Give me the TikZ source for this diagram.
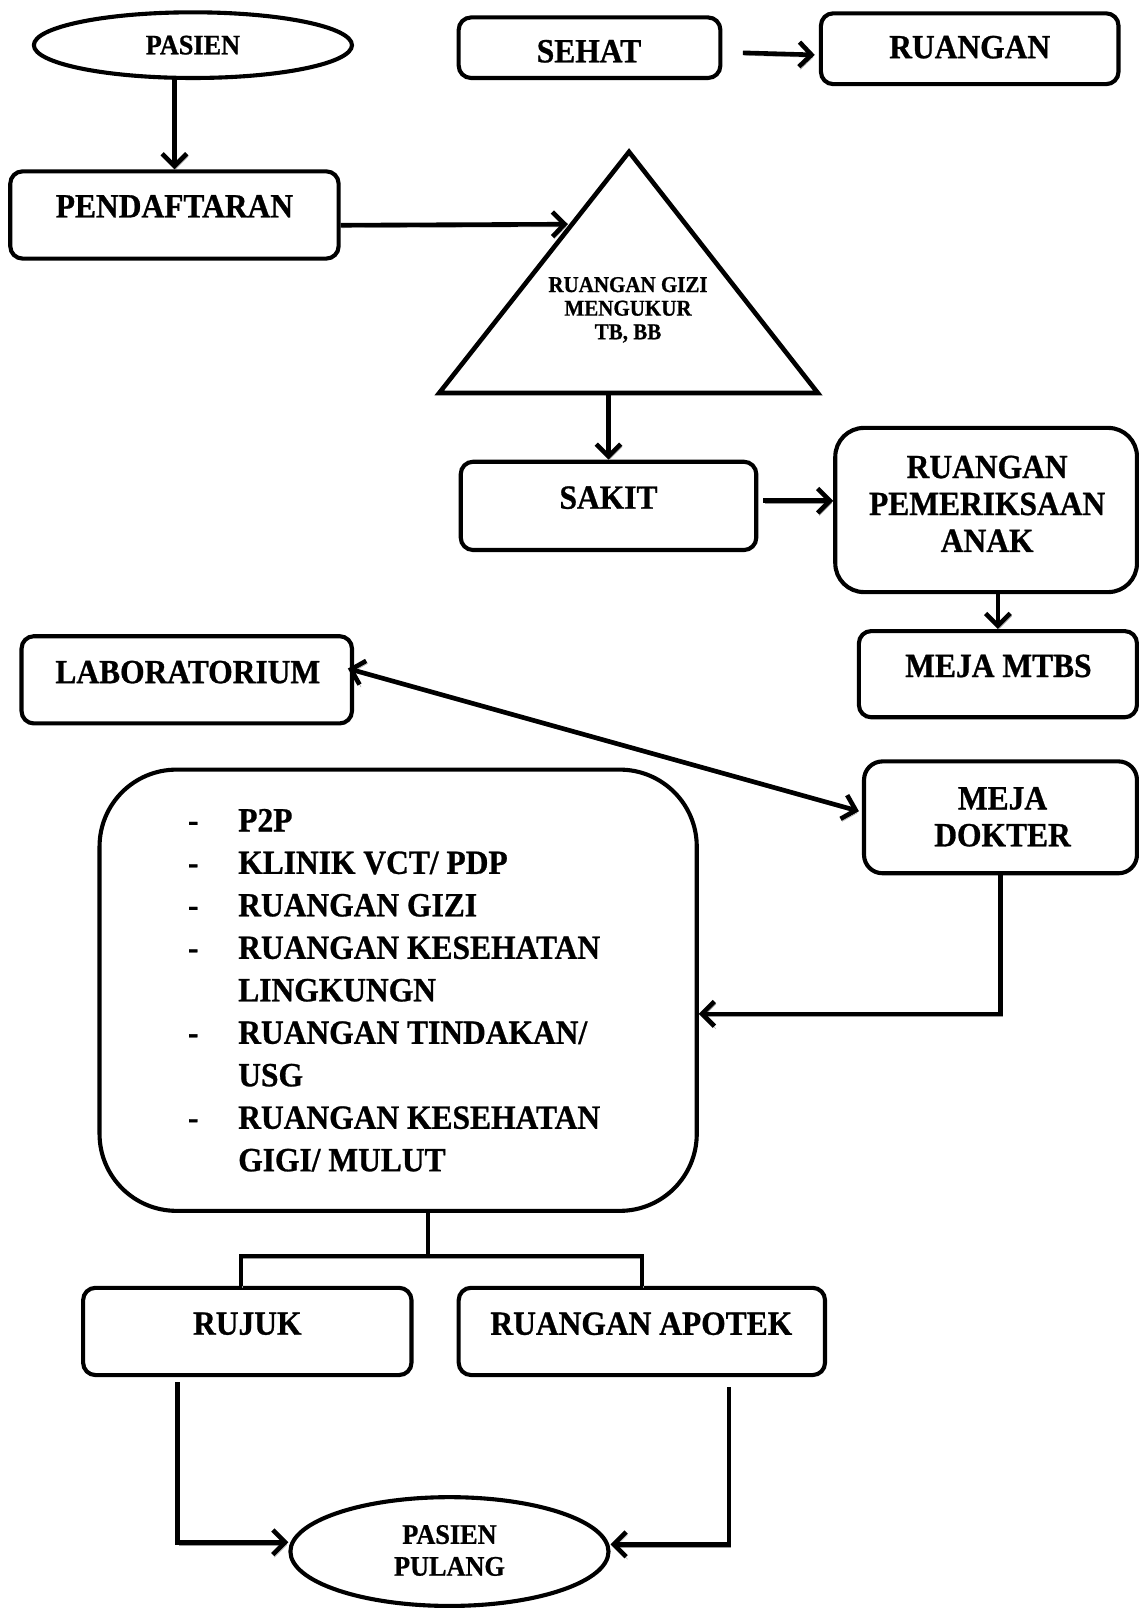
\documentclass[tikz,border=0pt]{standalone}
\usepackage{fontspec}
\setmainfont{Liberation Serif}[BoldFeatures={FakeStretch=0.93,FakeBold=0.8}]
\usetikzlibrary{arrows.meta,calc,shapes.geometric}

\tikzset{
  box/.style={draw, line width=4pt, rounded corners=12pt, inner sep=0pt},
  oval/.style={draw, ellipse, line width=4pt, inner sep=0pt},
  lblL/.style={font=\fontsize{33}{36}\selectfont\bfseries, align=center, inner sep=0pt},
  lblM/.style={font=\fontsize{27.5}{31}\selectfont\bfseries, align=center, inner sep=0pt},
  lblS/.style={font=\fontsize{22}{23}\selectfont\bfseries, align=center, inner sep=0pt},
  wire/.style={line width=4.5pt, preaction={draw=black!40, transform canvas={shift={(1.5,2.5)}}}},
  flow/.style={wire, -{Straight Barb[length=12pt,width=24pt]}},
  twoway/.style={wire, {Straight Barb[length=12pt,width=24pt]}-{Straight Barb[length=12pt,width=24pt]}},
}

\begin{document}
\begin{tikzpicture}[x=1pt,y=-1pt]
\useasboundingbox (0,0) rectangle (1109,1568);

% --- boxes and ovals ---
\node[oval, minimum width=310pt, minimum height=64pt] (pasien) at (188,44) {};
\node[lblM] (pasien-t) at (188,44) {PASIEN};

\node[box, minimum width=255pt, minimum height=59pt] (sehat) at (574.5,46.5) {};
\node[lblL] (sehat-t) at (574,50) {SEHAT};

\node[box, minimum width=290pt, minimum height=69pt] (ruangan) at (945,47.5) {};
\node[lblL] (ruangan-t) at (945,46) {RUANGAN};

\node[box, minimum width=320pt, minimum height=85pt] (pendaftaran) at (170,209.5) {};
\node[lblL] (pendaftaran-t) at (170,201) {PENDAFTARAN};

% measuring room (triangle)
\coordinate (gizi-apex) at (613,148);
\coordinate (gizi-left) at (428,383);
\coordinate (gizi-right) at (797,383);
\draw[line width=4.5pt, line join=miter] (gizi-apex) -- (gizi-left) -- (gizi-right) -- cycle;
\node[lblS] (gizi) at (612,302) {RUANGAN GIZI\\MENGUKUR\\TB, BB};

\node[box, minimum width=288pt, minimum height=86pt] (sakit) at (593,493) {};
\node[lblL] (sakit-t) at (593,485) {SAKIT};

\node[box, rounded corners=28pt, minimum width=294pt, minimum height=160pt] (pemeriksaan) at (961,497) {};
\node[lblL] (pemeriksaan-t) at (962,491) {RUANGAN\\PEMERIKSAAN\\ANAK};

\node[box, minimum width=271pt, minimum height=84pt] (mtbs) at (972.5,657) {};
\node[lblL] (mtbs-t) at (973,649) {MEJA MTBS};

\node[box, minimum width=322pt, minimum height=85pt] (lab) at (182,662.5) {};
\node[lblL] (lab-t) at (183,655) {LABORATORIUM};

\node[box, rounded corners=18pt, minimum width=266pt, minimum height=109pt] (dokter) at (975,796.5) {};
\node[lblL] (dokter-t) at (977,796) {MEJA\\DOKTER};

\node[box, rounded corners=75pt, minimum width=582pt, minimum height=430pt] (services) at (388,965) {};
\node[anchor=north west, inner sep=0pt, font=\fontsize{33}{41.4}\selectfont\bfseries] (services-list) at (183,781)
  {\begin{tabular}{@{}p{49pt}@{}l@{}}
   - & P2P\\
   - & KLINIK VCT/ PDP\\
   - & RUANGAN GIZI\\
   - & RUANGAN KESEHATAN\\
     & LINGKUNGN\\
   - & RUANGAN TINDAKAN/\\
     & USG\\
   - & RUANGAN KESEHATAN\\
     & GIGI/ MULUT
   \end{tabular}};

\node[box, minimum width=320pt, minimum height=85pt] (rujuk) at (241,1297.5) {};
\node[lblL] (rujuk-t) at (241,1290) {RUJUK};

\node[box, minimum width=357pt, minimum height=85pt] (apotek) at (625.5,1297.5) {};
\node[lblL] (apotek-t) at (625,1290) {RUANGAN APOTEK};

\node[oval, minimum width=310pt, minimum height=106pt] (pulang) at (438,1512) {};
\node[lblM] (pulang-t) at (438,1511) {PASIEN\\PULANG};

% --- connectors ---
\draw[flow] (pendaftaran.north |- pasien.south) -- (pendaftaran.north);
\draw[flow] ([yshift=-10pt]pendaftaran.east) -- ($(gizi-apex)!0.3!(gizi-left)+(-4,0)$);
\draw[flow] ([xshift=20pt,yshift=-5pt]sehat.east) -- ([xshift=-4pt,yshift=-6pt]ruangan.west);
\draw[flow] (sakit.north |- gizi-left) -- (sakit.north);
\draw[flow] ([xshift=5pt,yshift=5pt]sakit.east) coordinate (s1) -- (s1 -| pemeriksaan.west);
\draw[flow] (mtbs.north |- pemeriksaan.south) -- (mtbs.north);
\draw[twoway] ([xshift=-6pt,yshift=11pt]lab.east) -- ([xshift=-3pt,yshift=6pt]dokter.west);
\draw[flow] (dokter.south) -- ++(0,135) coordinate (d1) -- (d1 -| services.east);

\coordinate (split) at (417,1224);
\draw[wire] (split |- services.south) -- (split);
\draw[wire] ([xshift=-6pt]rujuk.north) |- (split) -| (apotek.north);

\draw[flow] ([xshift=-68pt,yshift=-5pt]rujuk.south) |- ([yshift=9pt]pulang.west);
\draw[flow] ([xshift=85pt,yshift=-10pt]apotek.south) |- ([yshift=7pt]pulang.east);
\end{tikzpicture}
\end{document}
